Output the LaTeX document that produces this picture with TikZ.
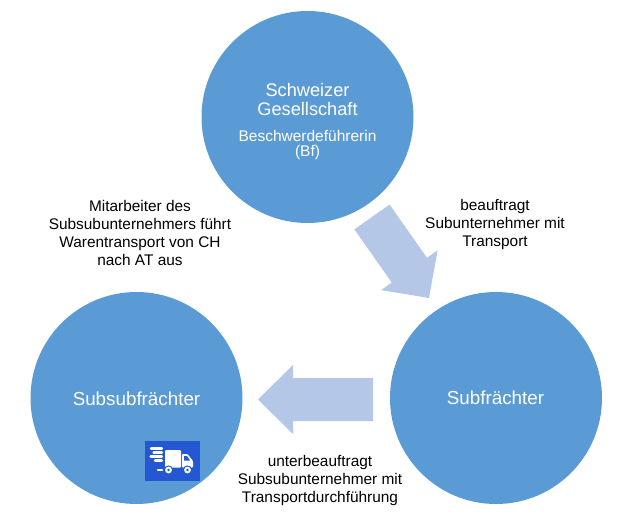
\documentclass[tikz,border=0pt]{standalone}
\usepackage{fontspec}
\setmainfont{Liberation Sans}
\definecolor{circ}{HTML}{5B9BD5}
\definecolor{arr}{HTML}{B4C7E7}
\definecolor{truckbg}{HTML}{2458D3}
\begin{document}
\begin{tikzpicture}[x=1pt,y=-1pt,
  party/.style={circle,fill=circ,draw=none,minimum size=212pt,inner sep=0pt},
  inlabel/.style={text=white,inner sep=0pt,align=center},
  outlabel/.style={text=black,inner sep=0pt,align=center,font=\fontsize{15.4}{18}\selectfont},
  blockarrow/.style={fill=arr,draw=none},
  speed/.style={draw=white,line width=2.2pt,line cap=round}]
\fill[white] (0,0) rectangle (640,532);
\useasboundingbox (0,0) rectangle (640,532);

% parties
\node[party] (bf) at (307.5,117) {};
\node[party] (subsub) at (136.5,398) {};
\node[party] (sub) at (496,398) {};

% block arrows
\fill[blockarrow] (354.4,229.4) -- (389.6,204.6) -- (427,257.8) -- (437.6,250.3)
  -- (429,298) -- (381.2,290.1) -- (391.8,282.6) -- cycle;
\fill[blockarrow] (373,378) -- (293,378) -- (293,365) -- (258,399.5) -- (293,434)
  -- (293,421) -- (373,421) -- cycle;

% texts in circles
\node[inlabel,anchor=north,font=\fontsize{18.2}{19}\selectfont] (bfname) at (307.5,83.6) {Schweizer\\Gesellschaft};
\node[inlabel,anchor=north,font=\fontsize{15.5}{15}\selectfont] (bfrole) at (307.5,129.7) {Beschwerdeführerin\\(Bf)};
\node[inlabel,anchor=base,font=\fontsize{18.8}{20}\selectfont] (subsubname) at (136.5,405) {Subsubfrächter};
\node[inlabel,anchor=base,font=\fontsize{18.8}{20}\selectfont] (subname) at (495.5,404) {Subfrächter};

% outer labels
\node[outlabel,anchor=north] (lblbf) at (140,199.9) {Mitarbeiter des\\Subsubunternehmers führt\\Warentransport von CH\\nach AT aus};
\node[outlabel,anchor=north] (lblsub) at (495,198.8) {beauftragt\\Subunternehmer mit\\Transport};
\node[outlabel,anchor=north] (lblsubsub) at (320,455.5) {unterbeauftragt\\Subsubunternehmer mit\\Transportdurchführung};

% truck icon
\node[fill=truckbg,minimum width=55pt,minimum height=40pt,inner sep=0pt] (truck) at (172.5,461) {};
\fill[white,rounded corners=1pt] (165,450) rectangle (181,467.5);
\fill[white,rounded corners=0.8pt] (182,454) -- (187.5,454) -- (193,461) -- (193,467.5) -- (182,467.5) -- cycle;
\fill[truckbg] (184,456) -- (187,456) -- (190,460.5) -- (184,460.5) -- cycle;
\foreach \wx in {168.5,187.5}{
  \fill[truckbg] (\wx,470) circle (4.6pt);
  \fill[white] (\wx,470) circle (3.4pt);
  \fill[truckbg] (\wx,470) circle (1.4pt);
}
\draw[speed] (151,448.5) -- (162,448.5);
\draw[speed] (153.5,452.5) -- (162,452.5);
\draw[speed] (150.5,456.5) -- (162,456.5);
\draw[speed] (155,460.5) -- (162,460.5);
\draw[speed] (158,470) -- (162,470);
\end{tikzpicture}
\end{document}
